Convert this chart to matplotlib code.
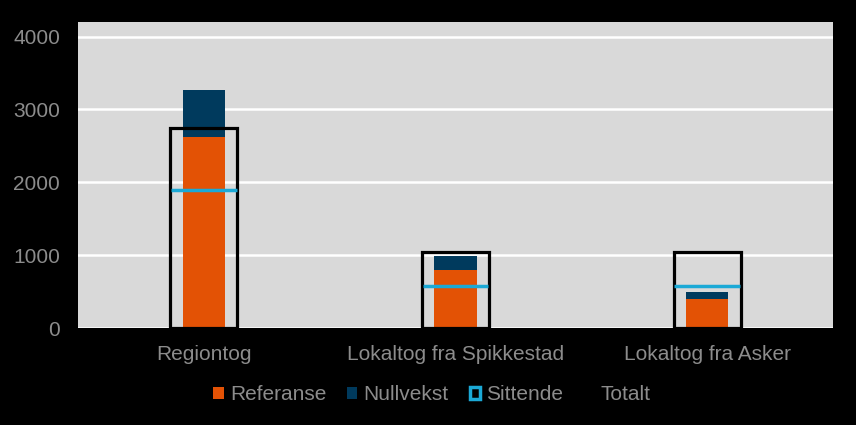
import matplotlib.pyplot as plt
import numpy as np
from matplotlib.patches import Patch

plt.rcParams['font.family'] = ['Liberation Sans', 'DejaVu Sans']

# data
kategorier = ["Regiontog", "Lokaltog fra Spikkestad", "Lokaltog fra Asker"]
referanse = [2620, 790, 400]
nullvekst = [650, 195, 100]
sittende = [1900, 570, 570]
totalt = [2750, 1050, 1050]

farge_ref = "#E35205"
farge_null = "#003A5D"
farge_sitt = "#1BA9D6"
grå = "#8C8C8C"

fig = plt.figure(figsize=(8.56, 4.25), dpi=100, facecolor="black")
ax = fig.add_axes([78 / 856, 1 - 328 / 425, 755 / 856, 306 / 425])
ax.set_facecolor("#D9D9D9")

x = np.arange(len(kategorier))

ax.bar(x, referanse, width=0.167, color=farge_ref, zorder=3)
ax.bar(x, nullvekst, width=0.167, bottom=referanse, color=farge_null, zorder=3)
ax.bar(x, totalt, width=0.265, facecolor="none", edgecolor="black", linewidth=2.3, zorder=4)
ax.hlines(sittende, x - 0.13, x + 0.13, color=farge_sitt, linewidth=2.5, zorder=5)

ax.set_xlim(-0.5, 2.5)
ax.set_ylim(0, 4200)
ax.set_yticks([0, 1000, 2000, 3000, 4000])
ax.set_xticks(x)
ax.set_xticklabels(kategorier)
ax.grid(axis="y", color="white", linewidth=1.8, zorder=0)
ax.set_axisbelow(True)
for s in ax.spines.values():
    s.set_visible(False)
ax.tick_params(length=0, labelsize=15, colors=grå)
ax.tick_params(axis="x", pad=12)
ax.tick_params(axis="y", pad=13)

handles = [
    Patch(facecolor=farge_ref, edgecolor="none"),
    Patch(facecolor=farge_null, edgecolor="none"),
    Patch(facecolor="none", edgecolor=farge_sitt, linewidth=2.5),
    Patch(facecolor="none", edgecolor="black", linewidth=2),
]
leg = fig.legend(handles, ["Referanse", "Nullvekst", "Sittende", "Totalt"],
                 loc="center", bbox_to_anchor=(432 / 856, 1 - 395 / 425), ncol=4,
                 frameon=False, fontsize=15, handlelength=0.5, handleheight=0.5,
                 handletextpad=0.3, columnspacing=1.0)
for t in leg.get_texts():
    t.set_color(grå)

fig.savefig("out.png", dpi=100, facecolor="black")
